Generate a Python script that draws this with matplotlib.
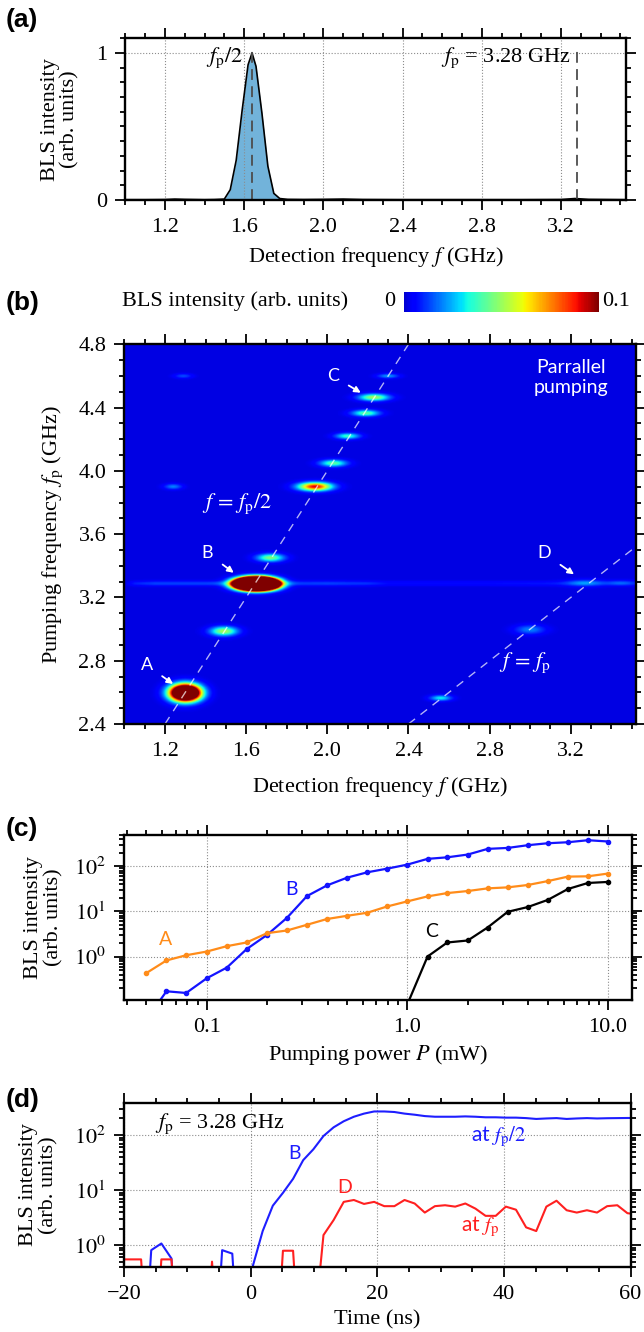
import numpy as np
import matplotlib
matplotlib.use('Agg')
import matplotlib.pyplot as plt
from matplotlib.colors import ListedColormap
from matplotlib.ticker import FixedLocator, MultipleLocator, LogLocator, NullFormatter, FixedFormatter

plt.rcParams['font.family'] = ['Liberation Serif', 'DejaVu Serif']
plt.rcParams['mathtext.fontset'] = 'stix'

# ---------------- data: panel (a) spectrum at fp = 3.28 GHz ----------------
spec_f = [1.00, 1.10, 1.20, 1.25, 1.30, 1.40, 1.45, 1.50, 1.53, 1.56, 1.59, 1.62, 1.64,
          1.66, 1.69, 1.72, 1.75, 1.78, 1.82, 1.90, 2.00, 2.10, 2.20, 2.40, 2.60, 2.80,
          3.00, 3.20, 3.27, 3.34, 3.53]
spec_I = [0.002, 0.002, 0.003, 0.006, 0.004, 0.002, 0.003, 0.006, 0.07, 0.27, 0.61, 0.92, 1.0,
          0.91, 0.59, 0.23, 0.045, 0.01, 0.004, 0.003, 0.004, 0.006, 0.003, 0.002, 0.002, 0.002,
          0.002, 0.003, 0.010, 0.004, 0.002]
fp_value = 3.28
fp_half = 1.64

# ---------------- data: panel (b) map spots ----------------
spot_f   = [1.30, 1.49, 1.65, 1.72, 1.94, 2.03, 2.10, 2.19, 2.23, 2.30, 1.24, 1.29, 2.56, 3.00, 3.27, 3.45]
spot_fp  = [2.595, 2.985, 3.285, 3.45, 3.90, 4.048, 4.22, 4.365, 4.465, 4.60, 3.90, 4.60, 2.562, 2.995, 3.29, 3.29]
spot_amp = [0.25, 0.05, 1.00, 0.045, 0.09, 0.04, 0.035, 0.04, 0.05, 0.02, 0.018, 0.012, 0.03, 0.018, 0.016, 0.010]
spot_sf  = [0.048, 0.045, 0.056, 0.045, 0.055, 0.045, 0.04, 0.045, 0.05, 0.035, 0.03, 0.03, 0.035, 0.05, 0.06, 0.05]
spot_sfp = [0.034, 0.02, 0.022, 0.017, 0.018, 0.015, 0.013, 0.014, 0.015, 0.01, 0.012, 0.01, 0.012, 0.02, 0.015, 0.012]
streak_f   = [1.00, 1.05, 1.15, 1.45, 1.80, 2.00, 2.20, 2.30, 2.80, 3.10, 3.52]
streak_amp = [0.000, 0.007, 0.011, 0.011, 0.010, 0.011, 0.009, 0.005, 0.005, 0.006, 0.005]
background_level = 0.002
line_fp = [2.4, 4.8]

# ---------------- data: panel (c) power dependence ----------------
power_mW = [0.05, 0.063, 0.079, 0.1, 0.126, 0.158, 0.2, 0.251, 0.316, 0.398, 0.501, 0.631,
            0.794, 1.0, 1.26, 1.58, 2.0, 2.51, 3.16, 3.98, 5.01, 6.31, 7.94, 10.0]
int_A = [0.43, 0.82, 1.07, 1.29, 1.70, 2.05, 3.3, 3.78, 5.06, 6.8, 8.0, 9.35,
         12.9, 16.7, 21.5, 25.5, 28.3, 32.4, 34.1, 38.5, 47.0, 59.0, 60.0, 69.0]
int_B = [0.04, 0.17, 0.156, 0.33, 0.57, 1.46, 3.03, 7.2, 21.9, 37.8, 56.0, 73.6,
         88.7, 109.0, 146.0, 158.0, 182.0, 243.0, 255.0, 293.0, 324.0, 341.0, 378.0, 354.0]
power_C = [1.0, 1.26, 1.58, 2.0, 2.51, 3.16, 3.98, 5.01, 6.31, 7.94, 10.0]
int_C = [0.088, 1.0, 2.05, 2.27, 4.4, 9.8, 12.5, 18.0, 31.4, 42.7, 45.0]

# ---------------- data: panel (d) time traces ----------------
time_ns = [-20.5, -18.9, -17.3, -15.7, -14.1, -12.5, -10.9, -9.3, -7.7, -6.1, -4.5, -2.9, -1.3,
           0.3, 1.9, 3.5, 5.1, 6.7, 8.3, 9.9, 11.5, 13.1, 14.7, 16.3, 17.9, 19.5, 21.1, 22.7,
           24.3, 25.9, 27.5, 29.1, 30.7, 32.3, 33.9, 35.5, 37.1, 38.7, 40.3, 41.9, 43.5, 45.1,
           46.7, 48.3, 49.9, 51.5, 53.1, 54.7, 56.3, 57.9, 59.5, 61.1]
trace_B = [0.001, 0.001, 0.001, 0.81, 1.07, 0.57, 0.001, 0.001, 0.001, 0.001, 0.81, 0.70, 0.001,
           0.40, 1.8, 5.2, 8.9, 16.0, 35.0, 55.0, 96.0, 138.0, 178.0, 215.0, 245.0, 268.0, 268.0, 262.0,
           245.0, 234.0, 221.0, 215.0, 215.0, 215.0, 218.0, 215.0, 210.0, 210.0, 207.0, 207.0, 203.0, 196.0,
           200.0, 203.0, 196.0, 200.0, 203.0, 200.0, 202.0, 203.0, 204.0, 204.0]
trace_D = [0.55, 0.55, 0.55, 0.001, 0.55, 0.55, 0.001, 0.001, 0.001, 0.50, 0.001, 0.001, 0.001,
           0.001, 0.001, 0.001, 0.79, 0.79, 0.001, 0.02, 1.52, 2.85, 6.1, 6.6, 5.6, 6.1, 5.1, 5.1,
           6.6, 5.7, 3.9, 5.1, 5.3, 5.0, 5.7, 4.6, 3.4, 3.4, 5.0, 4.4, 2.1, 1.8,
           5.0, 6.4, 4.3, 3.9, 4.3, 3.9, 5.1, 5.3, 3.8, 3.6]

# ---------------- figure ----------------
W, H = 644, 1332
fig = plt.figure(figsize=(W / 100, H / 100), dpi=100)


def rect(l, r, t, b):
    return [l / W, 1 - b / H, (r - l) / W, (b - t) / H]


def style(ax):
    ax.tick_params(which='both', direction='out', top=True, right=True, width=1.3,
                   labelsize=16, pad=6, colors='black')
    ax.tick_params(which='major', length=7)
    ax.tick_params(which='minor', length=3.6)
    for s in ax.spines.values():
        s.set_linewidth(1.7)


def grid(ax):
    ax.grid(True, which='major', ls=':', color='0.55', lw=0.8)


def panel_label(txt, ypx):
    fig.text(6 / W, 1 - ypx / H, txt, fontsize=19, fontweight='bold', family='Liberation Sans',
             ha='left', va='center')


sans = ['Lato', 'DejaVu Sans']

# ---- (a)
axa = fig.add_axes(rect(125.3, 626.3, 38.3, 200))
axa.fill_between(spec_f, spec_I, color='#72b3da', lw=0)
axa.plot(spec_f, spec_I, color='black', lw=1.2)
axa.vlines([fp_half, fp_value], 0, 1.03, colors='0.3', linestyles=(0, (6, 3.5)), lw=1.3)
axa.set_xlim(1.0, 3.53)
axa.set_ylim(0, 1.1)
axa.xaxis.set_major_locator(FixedLocator([1.2, 1.6, 2.0, 2.4, 2.8, 3.2]))
axa.xaxis.set_major_formatter(FixedFormatter(['1.2', '1.6', '2.0', '2.4', '2.8', '3.2']))
axa.xaxis.set_minor_locator(MultipleLocator(0.1))
axa.yaxis.set_major_locator(FixedLocator([0, 1]))
axa.yaxis.set_major_formatter(FixedFormatter(['0', '1']))
axa.yaxis.set_minor_locator(MultipleLocator(0.1))
style(axa)
grid(axa)
axa.text(1.595, 0.97, r'$f_\mathrm{p}/2$', fontsize=16, ha='right', va='center')
axa.text(3.25, 0.965, r'$f_\mathrm{p}$ = 3.28 GHz', fontsize=16, ha='right', va='center')
axa.set_xlabel(r'Detection frequency $f$ (GHz)', fontsize=16, va='center')
axa.xaxis.set_label_coords(0.5, -0.352)
axa.set_ylabel('BLS intensity\n(arb. units)', fontsize=16, va='center', linespacing=1.05)
axa.yaxis.set_label_coords(-0.13, 0.5)
panel_label('(a)', 20)

# ---- (b)
cmap = ListedColormap(plt.cm.jet(np.linspace(0.07, 1.0, 256)))
fg = np.linspace(1.0, 3.52, 505)
pg = np.linspace(2.4, 4.8, 481)
F, P = np.meshgrid(fg, pg)
Z = np.full(F.shape, background_level)
for f0, p0, a, sf, sp in zip(spot_f, spot_fp, spot_amp, spot_sf, spot_sfp):
    Z += a * np.exp(-0.5 * (((F - f0) / sf) ** 2 + ((P - p0) / sp) ** 2))
streak = np.interp(fg, streak_f, streak_amp)
Z += streak[None, :] * np.exp(-0.5 * ((P - 3.287) / 0.011) ** 2)

axb = fig.add_axes(rect(124.4, 635.7, 344.3, 724))
im = axb.imshow(Z, origin='lower', extent=[1.0, 3.52, 2.4, 4.8], aspect='auto',
                cmap=cmap, vmin=0, vmax=0.1, interpolation='bilinear')
lf = np.array(line_fp)
axb.plot(lf / 2, lf, color='white', alpha=0.7, lw=1.0, ls=(0, (6, 5)))
axb.plot(lf, lf, color='white', alpha=0.7, lw=1.0, ls=(0, (6, 5)))
axb.set_xlim(1.0, 3.52)
axb.set_ylim(2.4, 4.8)
axb.xaxis.set_major_locator(FixedLocator([1.2, 1.6, 2.0, 2.4, 2.8, 3.2]))
axb.xaxis.set_major_formatter(FixedFormatter(['1.2', '1.6', '2.0', '2.4', '2.8', '3.2']))
axb.xaxis.set_minor_locator(MultipleLocator(0.1))
axb.yaxis.set_major_locator(FixedLocator([2.4, 2.8, 3.2, 3.6, 4.0, 4.4, 4.8]))
axb.yaxis.set_major_formatter(FixedFormatter(['2.4', '2.8', '3.2', '3.6', '4.0', '4.4', '4.8']))
axb.yaxis.set_minor_locator(MultipleLocator(0.1))
style(axb)
arrow = dict(arrowstyle='-|>', color='white', lw=1.3, mutation_scale=9, shrinkA=6, shrinkB=0)
for lab, xy, xt in [('A', (1.24, 2.653), (1.109, 2.773)),
                    ('B', (1.539, 3.356), (1.409, 3.479)),
                    ('C', (2.165, 4.494), (2.027, 4.60)),
                    ('D', (3.216, 3.346), (3.068, 3.479))]:
    axb.annotate(lab, xy=xy, xytext=xt, color='white', fontsize=13, family=sans,
                 ha='center', va='center', arrowprops=arrow)
axb.text(3.2, 4.59, 'Parrallel\npumping', color='white', fontsize=14, family=sans,
         ha='center', va='center', linespacing=1.25)
axb.text(1.554, 3.795, r'$f\,=\,f_\mathrm{p}/2$', color='white', fontsize=16, ha='center', va='center')
axb.text(2.976, 2.784, r'$f\,=\,f_\mathrm{p}$', color='white', fontsize=16, ha='center', va='center')
axb.set_xlabel(r'Detection frequency $f$ (GHz)', fontsize=16, va='center')
axb.xaxis.set_label_coords(0.5, -0.165)
axb.set_ylabel(r'Pumping frequency $f_\mathrm{p}$ (GHz)', fontsize=16, va='center')
axb.yaxis.set_label_coords(-0.14, 0.5)
panel_label('(b)', 303)

cax = fig.add_axes(rect(403.5, 599, 292.3, 311.5))
cb = fig.colorbar(im, cax=cax, orientation='horizontal')
cb.set_ticks([])
cb.outline.set_visible(False)
fig.text(390 / W, 1 - 301 / H, '0', fontsize=16, ha='center', va='center')
fig.text(616 / W, 1 - 301 / H, '0.1', fontsize=16, ha='center', va='center')
fig.text(122 / W, 1 - 301 / H, 'BLS intensity (arb. units)', fontsize=16, ha='left', va='center')

# ---- (c)
axc = fig.add_axes(rect(124, 631.6, 834.5, 1000))
axc.plot(power_mW, int_B, color='#1414ff', lw=1.6, marker='o', ms=3)
axc.plot(power_mW, int_A, color='#ff8c1a', lw=1.6, marker='o', ms=3)
axc.plot(power_C, int_C, color='black', lw=1.6, marker='o', ms=3)
axc.set_xscale('log')
axc.set_yscale('log')
axc.set_xlim(0.0387, 13.1)
axc.set_ylim(0.109, 506)
axc.xaxis.set_major_locator(FixedLocator([0.1, 1.0, 10.0]))
axc.xaxis.set_major_formatter(FixedFormatter(['0.1', '1.0', '10.0']))
axc.xaxis.set_minor_locator(LogLocator(base=10, subs=np.arange(2, 10)))
axc.xaxis.set_minor_formatter(NullFormatter())
axc.yaxis.set_major_locator(FixedLocator([1, 10, 100]))
axc.yaxis.set_major_formatter(FixedFormatter([r'$10^0$', r'$10^1$', r'$10^2$']))
axc.yaxis.set_minor_locator(LogLocator(base=10, subs=np.arange(2, 10)))
axc.yaxis.set_minor_formatter(NullFormatter())
style(axc)
grid(axc)
axc.text(0.0625, 2.35, 'A', color='#ff8c1a', fontsize=14, family=sans, ha='center', va='center')
axc.text(0.265, 30, 'B', color='#1414ff', fontsize=14, family=sans, ha='center', va='center')
axc.text(1.32, 3.6, 'C', color='black', fontsize=14, family=sans, ha='center', va='center')
axc.set_xlabel(r'Pumping power $P$ (mW)', fontsize=16, va='center')
axc.xaxis.set_label_coords(0.5, -0.332)
axc.set_ylabel('BLS intensity\n(arb. units)', fontsize=16, va='center', linespacing=1.05)
axc.yaxis.set_label_coords(-0.158, 0.5)
panel_label('(c)', 829)

# ---- (d)
axd = fig.add_axes(rect(124, 630.6, 1102.5, 1267))
axd.plot(time_ns, trace_B, color='#1e1eff', lw=1.5)
axd.plot(time_ns, trace_D, color='#ff2020', lw=1.5)
axd.set_yscale('log')
axd.set_xlim(-20, 60)
axd.set_ylim(0.4, 390)
axd.xaxis.set_major_locator(FixedLocator([-20, 0, 20, 40, 60]))
axd.xaxis.set_minor_locator(MultipleLocator(5))
axd.yaxis.set_major_locator(FixedLocator([1, 10, 100]))
axd.yaxis.set_major_formatter(FixedFormatter([r'$10^0$', r'$10^1$', r'$10^2$']))
axd.yaxis.set_minor_locator(LogLocator(base=10, subs=np.arange(2, 10)))
axd.yaxis.set_minor_formatter(NullFormatter())
style(axd)
grid(axd)
axd.text(-15.1, 163, r'$f_\mathrm{p}$ = 3.28 GHz', fontsize=16, ha='left', va='center')
axd.text(7.0, 46, 'B', color='#1e1eff', fontsize=14, family=sans, ha='center', va='center')
axd.text(14.9, 11.2, 'D', color='#ff2020', fontsize=14, family=sans, ha='center', va='center')
axd.text(39.2, 93, r'at $f_\mathrm{p}/2$', color='#1e1eff', fontsize=15, family=sans, ha='center', va='center')
axd.text(36.2, 2.15, r'at $f_\mathrm{p}$', color='#ff2020', fontsize=15, family=sans, ha='center', va='center')
axd.set_xlabel('Time (ns)', fontsize=16, va='center')
axd.xaxis.set_label_coords(0.5, -0.322)
axd.set_ylabel('BLS intensity\n(arb. units)', fontsize=16, va='center', linespacing=1.05)
axd.yaxis.set_label_coords(-0.168, 0.5)
panel_label('(d)', 1100)

fig.savefig('out.png', dpi=100)
